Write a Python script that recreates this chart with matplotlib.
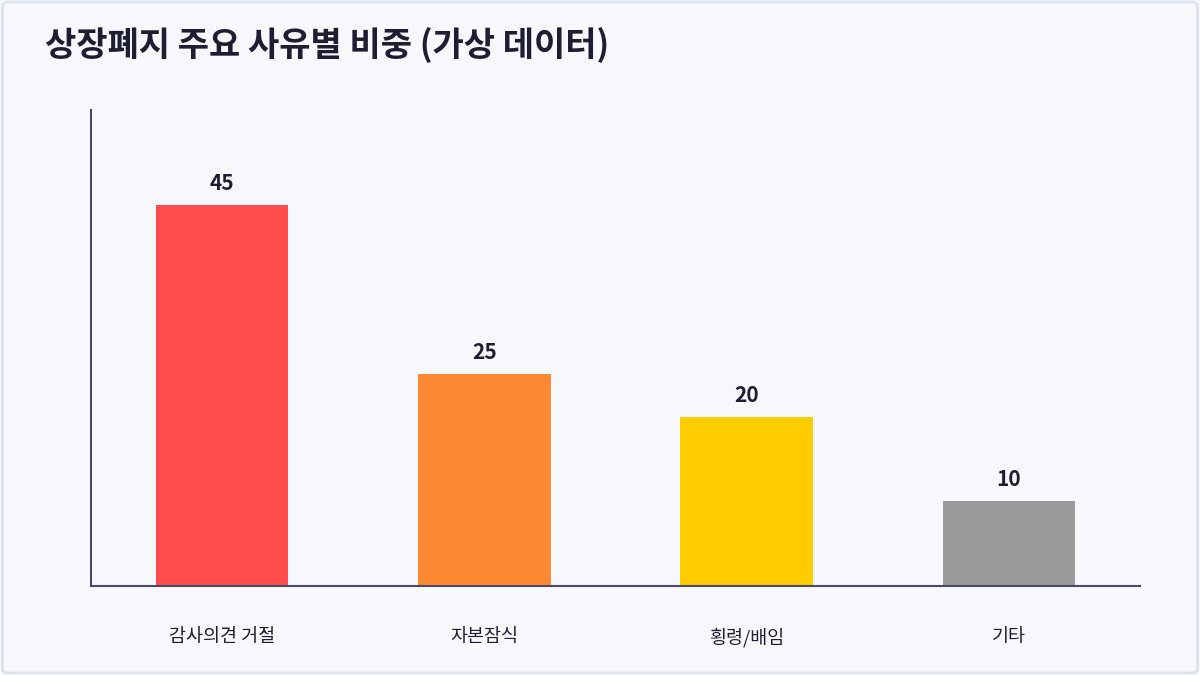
import matplotlib.pyplot as plt
from matplotlib.patches import FancyBboxPatch

plt.rcParams['font.family'] = ['Noto Sans CJK KR', 'DejaVu Sans']

categories = ['감사의견 거절', '자본잠식', '횡령/배임', '기타']
values = [45, 25, 20, 10]
colors = ['#ff4d4d', '#ff8833', '#ffcc00', '#999999']

bg = '#f7f8fc'
dark = '#1e1e32'
spine = '#4a4a68'

fig = plt.figure(figsize=(12, 6.75), dpi=100)
fig.patch.set_facecolor(bg)
fig.patches.append(FancyBboxPatch((0.002, 0.003), 0.996, 0.994, boxstyle='round,pad=0,rounding_size=0.006',
                                  transform=fig.transFigure, facecolor='none',
                                  edgecolor='#dde3ec', linewidth=2))

ax = fig.add_axes([91 / 1200, 89 / 675, 1049 / 1200, 476 / 675])
ax.set_facecolor(bg)
x = range(len(categories))
bars = ax.bar(x, values, width=0.505, color=colors)
for b, v in zip(bars, values):
    ax.text(b.get_x() + b.get_width() / 2, v + 1.3, str(v), ha='center', va='bottom',
            fontsize=15, fontweight='bold', color=dark)

ax.set_xlim(-0.5, 3.5)
ax.set_ylim(0, 56.2)
ax.set_xticks(list(x))
ax.set_xticklabels(categories, fontsize=13.3, color=dark)
ax.tick_params(axis='x', length=0, pad=30)
ax.set_yticks([])
for s in ['top', 'right']:
    ax.spines[s].set_visible(False)
for s in ['left', 'bottom']:
    ax.spines[s].set_color(spine)
    ax.spines[s].set_linewidth(1.5)

fig.text(45 / 1200, 1 - 45 / 675, '상장폐지 주요 사유별 비중 (가상 데이터)', fontsize=24.5,
         fontweight='bold', color=dark, va='center', ha='left')

fig.savefig('out.png', dpi=100, facecolor=bg)
